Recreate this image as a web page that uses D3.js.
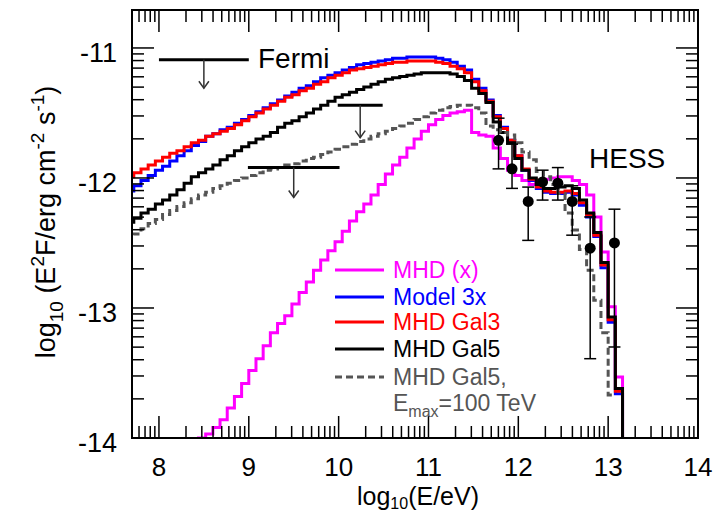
<!DOCTYPE html>
<html>
<head>
<meta charset="utf-8">
<script src="https://cdn.jsdelivr.net/npm/d3@7"></script>
<style>
  body { margin: 0; background: #fff; }
  svg { display: block; font-family: "Liberation Sans", Arial, Helvetica, sans-serif; }
</style>
</head>
<body>
<svg id="chart" width="718" height="515"></svg>
<script>
// model histograms: uniform bins in log10(E/eV)
const binStart = 7.64;
const binWidth = 0.08;

// log10(E^2 F) per bin (null = below the plot)
const mhdX = [null, null, null, null, null, null, null, null, null,
  -14.08, -14.00, -13.97, -13.92, -13.86, -13.77, -13.68, -13.58, -13.48, -13.39, -13.29,
  -13.19, -13.12, -13.06, -12.97, -12.88, -12.80, -12.71, -12.63, -12.56, -12.49,
  -12.41, -12.33, -12.26, -12.20, -12.13, -12.05, -11.97, -11.90, -11.84, -11.77,
  -11.70, -11.64, -11.59, -11.55, -11.52, -11.50, -11.49, -11.48, -11.65, -11.67,
  -11.68, -11.77, -11.85, -11.94, -11.98, -12.02, -12.05, -12.02, -12.01, -12.00,
  -11.99, -11.99, -12.02, -12.05, -12.13, -12.30, -12.57, -12.99, -13.53];

const model3x = [-12.10, -12.06, -12.02, -11.98, -11.94, -11.91, -11.87, -11.83, -11.79, -11.75,
  -11.72, -11.68, -11.66, -11.63, -11.61, -11.58, -11.55, -11.52, -11.49, -11.46,
  -11.43, -11.40, -11.37, -11.34, -11.31, -11.29, -11.26, -11.23, -11.21, -11.19,
  -11.17, -11.15, -11.13, -11.12, -11.11, -11.10, -11.09, -11.08, -11.08, -11.07,
  -11.07, -11.07, -11.07, -11.08, -11.09, -11.11, -11.14, -11.17, -11.24, -11.31,
  -11.40, -11.52, -11.61, -11.71, -11.83, -11.94, -12.02, -12.08, -12.11, -12.12,
  -12.12, -12.11, -12.13, -12.21, -12.30, -12.45, -12.69, -13.11, -13.66];

const mhdGal3 = [-11.99, -11.96, -11.93, -11.90, -11.87, -11.84, -11.81, -11.79, -11.76, -11.73,
  -11.71, -11.68, -11.66, -11.64, -11.62, -11.59, -11.56, -11.53, -11.50, -11.47,
  -11.44, -11.41, -11.38, -11.36, -11.33, -11.31, -11.28, -11.26, -11.23, -11.21,
  -11.19, -11.17, -11.16, -11.15, -11.14, -11.13, -11.12, -11.11, -11.11, -11.10,
  -11.10, -11.10, -11.10, -11.11, -11.12, -11.14, -11.16, -11.19, -11.26, -11.33,
  -11.41, -11.53, -11.62, -11.71, -11.83, -11.93, -12.01, -12.07, -12.10, -12.11,
  -12.11, -12.10, -12.12, -12.19, -12.28, -12.44, -12.67, -13.09, -13.64];

const mhdGal5 = [-12.34, -12.31, -12.27, -12.24, -12.20, -12.17, -12.13, -12.09, -12.04, -11.99,
  -11.96, -11.93, -11.90, -11.86, -11.83, -11.79, -11.76, -11.73, -11.70, -11.68,
  -11.65, -11.61, -11.58, -11.56, -11.53, -11.50, -11.47, -11.44, -11.41, -11.38,
  -11.36, -11.34, -11.32, -11.30, -11.28, -11.26, -11.24, -11.23, -11.22, -11.21,
  -11.20, -11.19, -11.19, -11.19, -11.19, -11.20, -11.22, -11.25, -11.31, -11.35,
  -11.42, -11.57, -11.65, -11.73, -11.85, -11.94, -12.00, -12.05, -12.08, -12.08,
  -12.07, -12.06, -12.08, -12.17, -12.27, -12.42, -12.65, -13.07, -13.62];

const mhdGal5Emax = [-12.46, -12.43, -12.39, -12.35, -12.32, -12.28, -12.25, -12.22, -12.19, -12.16,
  -12.13, -12.11, -12.08, -12.06, -12.04, -12.02, -12.00, -11.98, -11.96, -11.94,
  -11.93, -11.92, -11.90, -11.89, -11.87, -11.85, -11.84, -11.82, -11.80, -11.78,
  -11.76, -11.74, -11.72, -11.70, -11.68, -11.66, -11.64, -11.62, -11.60, -11.58,
  -11.55, -11.53, -11.50, -11.48, -11.46, -11.45, -11.44, -11.44, -11.46, -11.50,
  -11.60, -11.63, -11.65, -11.67, -11.73, -11.80, -11.86, -11.95, -11.99, -12.05,
  -12.12, -12.27, -12.40, -12.55, -12.71, -12.94, -13.19, -13.67, null];

// HESS data points with error bars
const hessE  = [11.78, 11.93, 12.11, 12.27, 12.44, 12.60, 12.80, 13.07];
const hessF  = [-11.71, -11.93, -12.18, -12.03, -12.04, -12.18, -12.54, -12.50];
const hessHi = [-11.54, -11.74, -12.07, -11.94, -11.92, -12.06, -12.30, -12.24];
const hessLo = [-11.93, -12.08, -12.48, -12.17, -12.17, -12.44, -13.39, -13.30];

// Fermi upper limits
const fermiLo  = [8.00, 9.99, 8.99];
const fermiHi  = [9.00, 10.49, 10.01];
const fermiF   = [-11.09, -11.44, -11.92];
const fermiTip = [-11.31, -11.69, -12.15];

const xTickLabels = [8, 9, 10, 11, 12, 13, 14];
const yTickLabels = [-11, -12, -13, -14];

const legendLabels = ["MHD (x)", "Model 3x", "MHD Gal3", "MHD Gal5", "MHD Gal5,"];
const legendColors = ["#ff00ff", "#0000ff", "#ff0000", "#000000", "#555555"];

const svg = d3.select("#chart");
const plot = { left: 132, right: 698, top: 10, bottom: 438 };

const x = d3.scaleLinear().domain([7.7, 14]).range([plot.left, plot.right]);
const y = d3.scaleLinear().domain([-14, -10.708]).range([plot.bottom, plot.top]);

svg.append("defs").append("clipPath").attr("id", "plotClip")
  .append("rect")
  .attr("x", plot.left).attr("y", plot.top)
  .attr("width", plot.right - plot.left).attr("height", plot.bottom - plot.top);

// turn a bin list into step points, dropping to below the axis after the last bin
function stepPoints(vals) {
  const pts = [];
  vals.forEach((v, i) => {
    const lo = binStart + i * binWidth;
    if (v === null) {
      pts.push(null);
      return;
    }
    const prev = i > 0 ? vals[i - 1] : null;
    if (prev === null) pts.push([lo, -14.5]);
    pts.push([lo, v], [lo + binWidth, v]);
  });
  const last = pts[pts.length - 1];
  if (last) pts.push([last[0], -14.5]);
  return pts;
}

const line = d3.line()
  .defined(d => d !== null)
  .x(d => x(d[0]))
  .y(d => y(d[1]));

const curves = svg.append("g").attr("clip-path", "url(#plotClip)");

const series = [
  { vals: mhdX, color: "#ff00ff", dash: null },
  { vals: model3x, color: "#0000ff", dash: null },
  { vals: mhdGal3, color: "#ff0000", dash: null },
  { vals: mhdGal5, color: "#000000", dash: null },
  { vals: mhdGal5Emax, color: "#555555", dash: "7,4" }
];

series.forEach(s => {
  curves.append("path")
    .attr("d", line(stepPoints(s.vals)))
    .attr("fill", "none")
    .attr("stroke", s.color)
    .attr("stroke-width", 3)
    .attr("stroke-dasharray", s.dash);
});

// Fermi upper limits: bar plus arrow
fermiLo.forEach((lo, i) => {
  const g = svg.append("g");
  const xm = x((lo + fermiHi[i]) / 2);
  g.append("line")
    .attr("x1", x(lo)).attr("x2", x(fermiHi[i]))
    .attr("y1", y(fermiF[i])).attr("y2", y(fermiF[i]))
    .attr("stroke", "#000").attr("stroke-width", 3);
  g.append("line")
    .attr("x1", xm).attr("x2", xm)
    .attr("y1", y(fermiF[i])).attr("y2", y(fermiTip[i]))
    .attr("stroke", "#333").attr("stroke-width", 1.5);
  g.append("path")
    .attr("d", `M${xm - 5},${y(fermiTip[i]) - 7}L${xm},${y(fermiTip[i])}L${xm + 5},${y(fermiTip[i]) - 7}`)
    .attr("fill", "none").attr("stroke", "#333").attr("stroke-width", 1.5);
});

// HESS points
const hess = svg.append("g");
hessE.forEach((e, i) => {
  const cx = x(e);
  hess.append("line")
    .attr("x1", cx).attr("x2", cx)
    .attr("y1", y(hessHi[i])).attr("y2", y(hessLo[i]))
    .attr("stroke", "#000").attr("stroke-width", 1.5);
  [hessHi[i], hessLo[i]].forEach(v => {
    hess.append("line")
      .attr("x1", cx - 6).attr("x2", cx + 6)
      .attr("y1", y(v)).attr("y2", y(v))
      .attr("stroke", "#000").attr("stroke-width", 1.5);
  });
  hess.append("circle")
    .attr("cx", cx).attr("cy", y(hessF[i])).attr("r", 5.5)
    .attr("fill", "#000");
});

// frame
svg.append("rect")
  .attr("x", plot.left).attr("y", plot.top)
  .attr("width", plot.right - plot.left).attr("height", plot.bottom - plot.top)
  .attr("fill", "none").attr("stroke", "#000").attr("stroke-width", 2);

// log-style ticks inside each decade, on all four sides
const majorLen = 22, minorLen = 12;
const ticks = svg.append("g").attr("stroke", "#000").attr("stroke-width", 1.5);

function decadeTicks(domain) {
  const out = [];
  for (let n = Math.floor(domain[0]); n <= Math.ceil(domain[1]); n++) {
    for (let k = 1; k <= 9; k++) {
      const v = n + Math.log10(k);
      if (v >= domain[0] - 1e-6 && v <= domain[1] + 1e-6) out.push({ v: v, major: k === 1 });
    }
  }
  return out;
}

decadeTicks(x.domain()).forEach(t => {
  const len = t.major ? majorLen : minorLen;
  const px = x(t.v);
  if (px <= plot.left + 1 || px >= plot.right - 1) return;
  ticks.append("line").attr("x1", px).attr("x2", px).attr("y1", plot.bottom).attr("y2", plot.bottom - len);
  ticks.append("line").attr("x1", px).attr("x2", px).attr("y1", plot.top).attr("y2", plot.top + len);
});

decadeTicks(y.domain()).forEach(t => {
  const len = t.major ? majorLen : minorLen;
  const py = y(t.v);
  if (py <= plot.top + 1 || py >= plot.bottom - 1) return;
  ticks.append("line").attr("x1", plot.left).attr("x2", plot.left + len).attr("y1", py).attr("y2", py);
  ticks.append("line").attr("x1", plot.right).attr("x2", plot.right - len).attr("y1", py).attr("y2", py);
});

// tick labels
svg.append("g").selectAll("text")
  .data(xTickLabels)
  .enter().append("text")
  .attr("x", d => x(d))
  .attr("y", 476)
  .attr("text-anchor", "middle")
  .style("font-size", "26px")
  .text(d => d);

svg.append("g").selectAll("text")
  .data(yTickLabels)
  .enter().append("text")
  .attr("x", 117)
  .attr("y", d => y(d) + 14)
  .attr("text-anchor", "end")
  .style("font-size", "27px")
  .text(d => d);

// axis titles
const xTitle = svg.append("text")
  .attr("x", 418).attr("y", 505)
  .attr("text-anchor", "middle")
  .style("font-size", "25px");
xTitle.append("tspan").text("log");
xTitle.append("tspan").attr("dy", 4).style("font-size", "16px").text("10");
xTitle.append("tspan").attr("dy", -4).text("(E/eV)");

const yTitle = svg.append("text")
  .attr("transform", "translate(55,222) rotate(-90)")
  .attr("text-anchor", "middle")
  .style("font-size", "27px");
yTitle.append("tspan").text("log");
yTitle.append("tspan").attr("dy", 8).style("font-size", "19px").text("10");
yTitle.append("tspan").attr("dy", -8).text(" (E");
yTitle.append("tspan").attr("dy", -11).style("font-size", "19px").text("2");
yTitle.append("tspan").attr("dy", 11).text("F/erg cm");
yTitle.append("tspan").attr("dy", -11).style("font-size", "19px").text("-2");
yTitle.append("tspan").attr("dy", 11).text(" s");
yTitle.append("tspan").attr("dy", -11).style("font-size", "19px").text("-1");
yTitle.append("tspan").attr("dy", 11).text(")");

// experiment labels
svg.append("text").attr("x", 258).attr("y", 68).style("font-size", "28px").text("Fermi");
svg.append("text").attr("x", 589).attr("y", 168).style("font-size", "28px").text("HESS");

// legend
const legend = svg.append("g");
const legendRowY = [270, 297, 322, 349, 377];
legendLabels.forEach((lab, i) => {
  legend.append("line")
    .attr("x1", 335).attr("x2", 384)
    .attr("y1", legendRowY[i]).attr("y2", legendRowY[i])
    .attr("stroke", legendColors[i])
    .attr("stroke-width", 3)
    .attr("stroke-dasharray", i === 4 ? "7,4" : null);
  legend.append("text")
    .attr("x", 393).attr("y", legendRowY[i] + 8)
    .style("font-size", "23px")
    .attr("fill", legendColors[i])
    .text(lab);
});
const emax = legend.append("text")
  .attr("x", 393).attr("y", 411)
  .style("font-size", "23px")
  .attr("fill", "#555555");
emax.append("tspan").text("E");
emax.append("tspan").attr("dy", 6).style("font-size", "16px").text("max");
emax.append("tspan").attr("dy", -6).text("=100 TeV");
</script>
</body>
</html>
